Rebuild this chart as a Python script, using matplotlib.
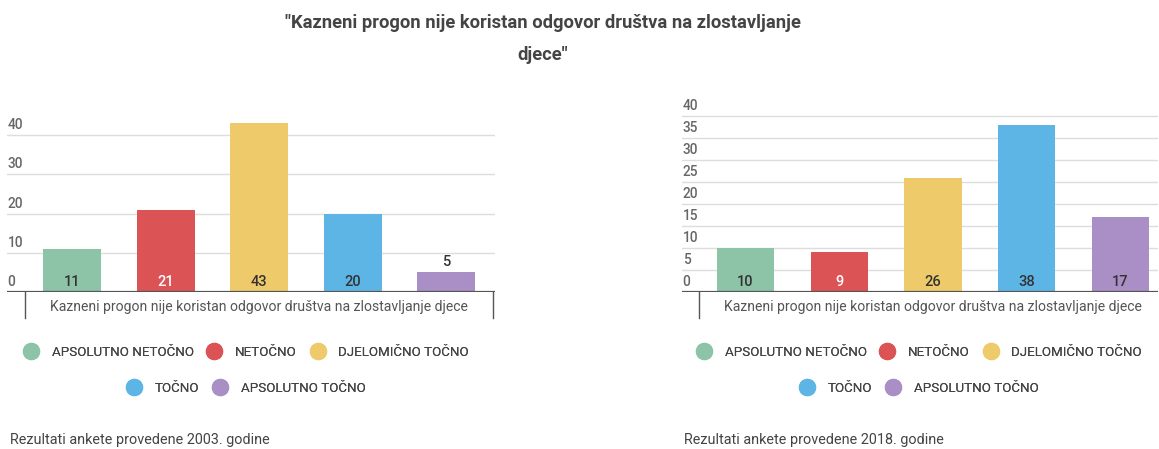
import matplotlib.pyplot as plt
from matplotlib.lines import Line2D

plt.rcParams['font.family'] = ['Roboto', 'DejaVu Sans']

# answers (same order in both surveys)
categories = ["APSOLUTNO NETOČNO", "NETOČNO", "DJELOMIČNO TOČNO", "TOČNO", "APSOLUTNO TOČNO"]
colors = ["#8dc3a7", "#dc5356", "#efca6a", "#5db5e5", "#a98fc6"]
label_colors = ["#333333", "#ffffff", "#333333", "#333333", "#333333"]

values_2003 = [11, 21, 43, 20, 5]
values_2018 = [10, 9, 26, 38, 17]
ticks_2003 = [0, 10, 20, 30, 40]
ticks_2018 = [0, 5, 10, 15, 20, 25, 30, 35, 40]

title = "\"Kazneni progon nije koristan odgovor društva na zlostavljanje\ndjece\""
group_label = "Kazneni progon nije koristan odgovor društva na zlostavljanje djece"
caption_2003 = "Rezultati ankete provedene 2003. godine"
caption_2018 = "Rezultati ankete provedene 2018. godine"

W, H = 1159, 449
fig = plt.figure(figsize=(W / 100, H / 100), dpi=100)
fig.patch.set_facecolor("white")


def px_axes(x0, x1, ytop, ybot):
    return fig.add_axes([x0 / W, 1 - ybot / H, (x1 - x0) / W, (ybot - ytop) / H])


def draw_panel(ax, values, ticks, ymax, xlim, bar_width, legend_x, caption, caption_x):
    ax.bar(range(len(values)), values, width=bar_width, color=colors, zorder=2)
    ax.set_xlim(*xlim)
    ax.set_ylim(0, ymax)
    ax.axis("off")

    # gridlines with labels sitting on top of them
    for t in ticks:
        if t > 0:
            ax.axhline(t, color="#dddddd", lw=1, zorder=1)
        ax.annotate(str(t), xy=(0, t), xycoords=("axes fraction", "data"),
                    xytext=(0.5, 2), textcoords="offset points",
                    ha="left", va="bottom", fontsize=9.8, fontweight="medium",
                    color="#666666")
    ax.axhline(0, color="#555555", lw=1.6, zorder=3)

    # value labels
    for i, v in enumerate(values):
        y = v if v < 8 else 0
        c = "#333333" if v < 8 else label_colors[i]
        ax.annotate(str(v), xy=(i, y), xytext=(0, 2.5), textcoords="offset points",
                    ha="center", va="bottom", fontsize=10.5, fontweight="medium",
                    color=c, zorder=4)

    # category bracket under the axis
    for xb in (-0.5, len(values) - 0.5):
        ax.axvline(xb, ymin=-26 / 192, ymax=0, color="#555555", lw=1, clip_on=False)
    ax.annotate(group_label, xy=((len(values) - 1) / 2, 0), xytext=(0, -10.5),
                textcoords="offset points", ha="center", va="center",
                fontsize=10.1, color="#555555")

    # legend in two centred rows
    handles = [Line2D([], [], marker="o", ls="none", markersize=11.5,
                      markerfacecolor=c, markeredgecolor=c) for c in colors]
    rows = [(slice(0, 3), 352), (slice(3, 5), 388)]
    for sl, ypix in rows:
        leg = fig.legend(handles[sl], categories[sl], loc="center",
                         bbox_to_anchor=(legend_x / W, 1 - ypix / H),
                         ncol=3, frameon=False, fontsize=9.6,
                         handlelength=0.9, handletextpad=1.1, columnspacing=1.1,
                         borderpad=0, labelcolor="#444444")
        fig.add_artist(leg)

    fig.text(caption_x / W, 1 - 440 / H, caption, ha="left", va="center",
             fontsize=10.4, color="#444444")


ax1 = px_axes(7, 495, 100, 292)
draw_panel(ax1, values_2003, ticks_2003, 192 / 3.925, (-0.694, 4.52), 0.62,
           247, caption_2003, 10)

ax2 = px_axes(682, 1158, 100, 292)
draw_panel(ax2, values_2018, ticks_2018, 192 / 4.4, (-0.677, 4.4), 0.61,
           920, caption_2018, 684)

fig.text(543 / W, 1 - 39 / H, title, ha="center", va="center", fontsize=13.2,
         fontweight="bold", color="#444444", linespacing=1.95)

fig.savefig("out.png", dpi=100)
